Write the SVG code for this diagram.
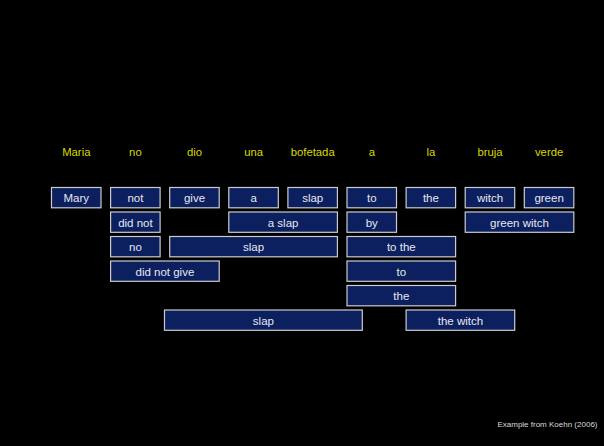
<svg xmlns="http://www.w3.org/2000/svg" width="604" height="446" viewBox="0 0 604 446">
  <style>
    .src { font-family: "Liberation Sans", Arial, sans-serif; font-size: 11.3px; fill: #d8d800; text-anchor: middle; }
    .box rect { fill: #0c1f5e; stroke: #cccccc; stroke-width: 1.2; }
    .box text { font-family: "Liberation Sans", Arial, sans-serif; font-size: 11.5px; fill: #e6e8f0; text-anchor: middle; }
    .note { font-family: "Liberation Sans", Arial, sans-serif; font-size: 8px; fill: #d8d8d8; text-anchor: end; }
  </style>
  <rect width="604" height="446" fill="#000"/>

  <!-- source sentence -->
  <g id="source">
    <text class="src" x="76.3" y="156">Maria</text>
    <text class="src" x="135.4" y="156">no</text>
    <text class="src" x="194.5" y="156">dio</text>
    <text class="src" x="253.6" y="156">una</text>
    <text class="src" x="312.7" y="156">bofetada</text>
    <text class="src" x="371.8" y="156">a</text>
    <text class="src" x="430.9" y="156">la</text>
    <text class="src" x="490" y="156">bruja</text>
    <text class="src" x="549.1" y="156">verde</text>
  </g>

  <!-- row 1 -->
  <g id="p-mary" class="box"><rect x="51.5" y="187.5" width="49.5" height="20.3"/><text x="76.3" y="202">Mary</text></g>
  <g id="p-not" class="box"><rect x="110.6" y="187.5" width="49.5" height="20.3"/><text x="135.4" y="202">not</text></g>
  <g id="p-give" class="box"><rect x="169.7" y="187.5" width="49.5" height="20.3"/><text x="194.5" y="202">give</text></g>
  <g id="p-a" class="box"><rect x="228.8" y="187.5" width="49.5" height="20.3"/><text x="253.6" y="202">a</text></g>
  <g id="p-slap" class="box"><rect x="287.9" y="187.5" width="49.5" height="20.3"/><text x="312.7" y="202">slap</text></g>
  <g id="p-to" class="box"><rect x="347" y="187.5" width="49.5" height="20.3"/><text x="371.8" y="202">to</text></g>
  <g id="p-the" class="box"><rect x="406.1" y="187.5" width="49.5" height="20.3"/><text x="430.9" y="202">the</text></g>
  <g id="p-witch" class="box"><rect x="465.2" y="187.5" width="49.5" height="20.3"/><text x="490" y="202">witch</text></g>
  <g id="p-green" class="box"><rect x="524.3" y="187.5" width="49.5" height="20.3"/><text x="549.1" y="202">green</text></g>

  <!-- row 2 -->
  <g id="p-did-not" class="box"><rect x="110.6" y="212" width="49.5" height="20.3"/><text x="135.4" y="226.5">did not</text></g>
  <g id="p-a-slap" class="box"><rect x="228.8" y="212" width="108.6" height="20.3"/><text x="283.1" y="226.5">a slap</text></g>
  <g id="p-by" class="box"><rect x="347" y="212" width="49.5" height="20.3"/><text x="371.8" y="226.5">by</text></g>
  <g id="p-green-witch" class="box"><rect x="465.2" y="212" width="108.6" height="20.3"/><text x="519.5" y="226.5">green witch</text></g>

  <!-- row 3 -->
  <g id="p-no" class="box"><rect x="110.6" y="236.5" width="49.5" height="20.3"/><text x="135.4" y="251">no</text></g>
  <g id="p-slap-2" class="box"><rect x="169.7" y="236.5" width="167.7" height="20.3"/><text x="253.6" y="251">slap</text></g>
  <g id="p-to-the" class="box"><rect x="347" y="236.5" width="108.6" height="20.3"/><text x="401.3" y="251">to the</text></g>

  <!-- row 4 -->
  <g id="p-did-not-give" class="box"><rect x="110.6" y="261" width="108.6" height="20.3"/><text x="164.9" y="275.5">did not give</text></g>
  <g id="p-to-2" class="box"><rect x="347" y="261" width="108.6" height="20.3"/><text x="401.3" y="275.5">to</text></g>

  <!-- row 5 -->
  <g id="p-the-2" class="box"><rect x="347" y="285.5" width="108.6" height="20.3"/><text x="401.3" y="300">the</text></g>

  <!-- row 6 -->
  <g id="p-slap-3" class="box"><rect x="164.5" y="310" width="197.8" height="20.3"/><text x="263.4" y="324.5">slap</text></g>
  <g id="p-the-witch" class="box"><rect x="406.1" y="310" width="108.6" height="20.3"/><text x="460.4" y="324.5">the witch</text></g>

  <!-- no connectors in this figure -->
  <g id="connectors"/>

  <text class="note" x="597.5" y="427">Example from Koehn (2006)</text>
</svg>
